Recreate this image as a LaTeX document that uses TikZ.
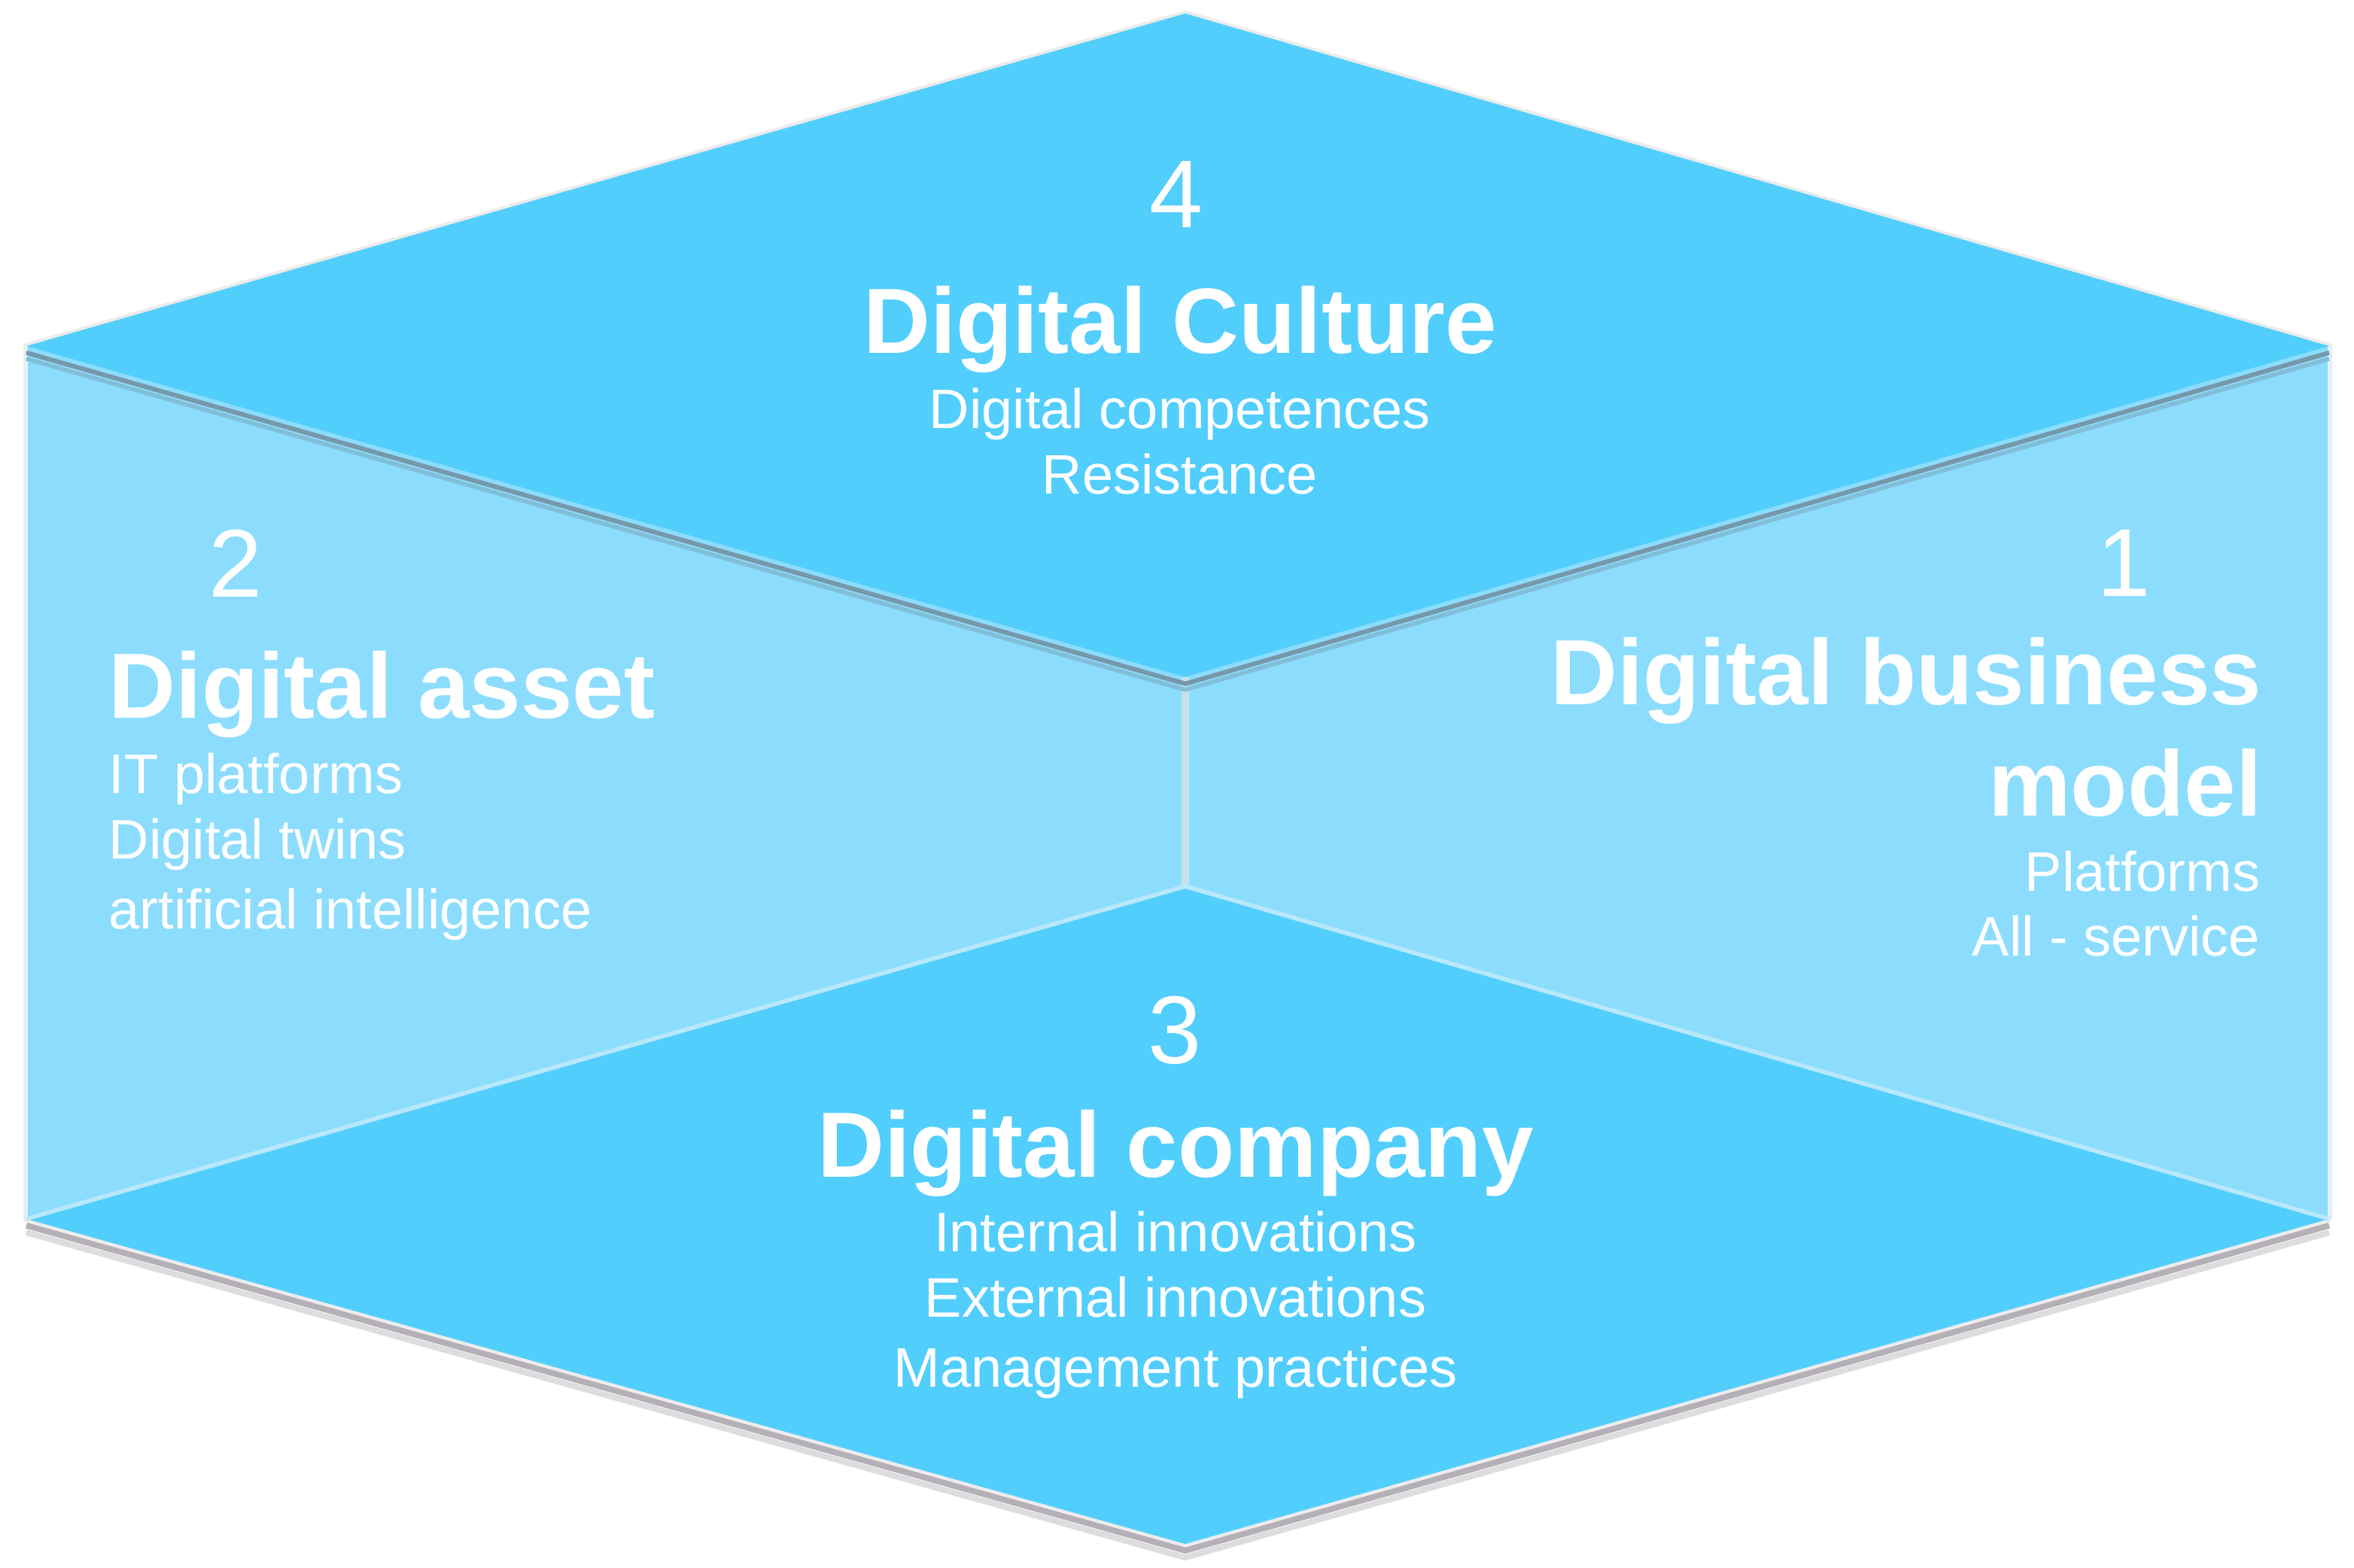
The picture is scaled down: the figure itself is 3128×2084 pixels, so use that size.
\documentclass[tikz,border=0pt]{standalone}
\usepackage{fontspec}
\setmainfont{Liberation Sans}
\definecolor{darkface}{RGB}{82,206,253}
\definecolor{lightface}{RGB}{140,221,253}
\definecolor{edgeshade}{RGB}{118,152,170}
\definecolor{lowshade}{RGB}{180,176,182}
\definecolor{highlight}{RGB}{185,232,250}
\definecolor{midline}{RGB}{200,226,236}
\begin{document}
\begin{tikzpicture}[x=0.25pt,y=-0.25pt,
  numlbl/.style={font=\fontsize{32}{32}\selectfont, text=white, inner sep=0pt, anchor=base},
  headlbl/.style={font=\fontsize{30.8}{30.8}\selectfont\bfseries, text=white, inner sep=0pt},
  itemlbl/.style={font=\fontsize{18.5}{18.5}\selectfont, text=white, inner sep=0pt},
  facepath/.style={line join=miter, draw=none}]
\useasboundingbox[fill=white] (0,0) rectangle (3128,2084);
% vertices
\coordinate (T)  at (1575,18);
\coordinate (UL) at (35,460);
\coordinate (UR) at (3095,460);
\coordinate (C1) at (1575,900);
\coordinate (C2) at (1575,1178);
\coordinate (LL) at (35,1620);
\coordinate (LR) at (3095,1620);
\coordinate (B)  at (1575,2052);
% faint outer halo
\draw[gray!15, line width=2pt, line join=round] (T) -- (UR) -- (LR) -- (B) -- (LL) -- (UL) -- cycle;
% side panels
\fill[lightface, facepath] (UL) -- (C1) -- (C2) -- (LL) -- cycle;
\fill[lightface, facepath] (UR) -- (C1) -- (C2) -- (LR) -- cycle;
% panel outer edges
\draw[white!70!lightface, line width=1.2pt] (UL) -- (LL);
\draw[white!70!lightface, line width=1.2pt] (UR) -- (LR);
% centre seam
\draw[midline, line width=2.4pt] (C1) -- (C2);
% shadow under bottom diamond
\draw[lowshade!45, line width=2pt] ([yshift=-4.5pt]LL) -- ([yshift=-4.5pt]B) -- ([yshift=-4.5pt]LR);
\draw[lowshade, line width=2pt] ([yshift=-2.2pt]LL) -- ([yshift=-2.2pt]B) -- ([yshift=-2.2pt]LR);
% bottom diamond
\fill[darkface, facepath] (LL) -- (C2) -- (LR) -- (B) -- cycle;
\draw[highlight, line width=1.4pt] (LL) -- (C2) -- (LR);
% shadow under top diamond
\draw[edgeshade!45!lightface, line width=1.4pt] ([yshift=-4.2pt]UL) -- ([yshift=-4.2pt]C1) -- ([yshift=-4.2pt]UR);
\draw[edgeshade, line width=1.5pt] ([yshift=-2.2pt]UL) -- ([yshift=-2.2pt]C1) -- ([yshift=-2.2pt]UR);
% top diamond
\fill[darkface, facepath] (T) -- (UR) -- (C1) -- (UL) -- cycle;
% ---- texts: top (4)
\node[numlbl] (n4) at (1563,303) {4};
\node[headlbl, anchor=base] (h4) at (1568,470) {Digital Culture};
\node[itemlbl, anchor=base] (i4a) at (1568,570) {Digital competences};
\node[itemlbl, anchor=base] (i4b) at (1568,657) {Resistance};
% ---- left (2)
\node[numlbl] (n2) at (313,794) {2};
\node[headlbl, anchor=base west] (h2) at (144,955) {Digital asset};
\node[itemlbl, anchor=base west] (i2a) at (144,1055) {IT platforms};
\node[itemlbl, anchor=base west] (i2b) at (144,1142) {Digital twins};
\node[itemlbl, anchor=base west] (i2c) at (144,1235) {artificial intelligence};
% ---- right (1)
\node[numlbl] (n1) at (2822,793) {1};
\node[headlbl, anchor=base east] (h1a) at (3006,937) {Digital business};
\node[headlbl, anchor=base east] (h1b) at (3006,1085) {model};
\node[itemlbl, anchor=base east] (i1a) at (3004,1185) {Platforms};
\node[itemlbl, anchor=base east] (i1b) at (3004,1271) {All - service};
% ---- bottom (3)
\node[numlbl] (n3) at (1561,1414) {3};
\node[headlbl, anchor=base] (h3) at (1562,1564) {Digital company};
\node[itemlbl, anchor=base] (i3a) at (1562,1663) {Internal innovations};
\node[itemlbl, anchor=base] (i3b) at (1562,1750) {External innovations};
\node[itemlbl, anchor=base] (i3c) at (1562,1843) {Management practices};
\end{tikzpicture}
\end{document}
